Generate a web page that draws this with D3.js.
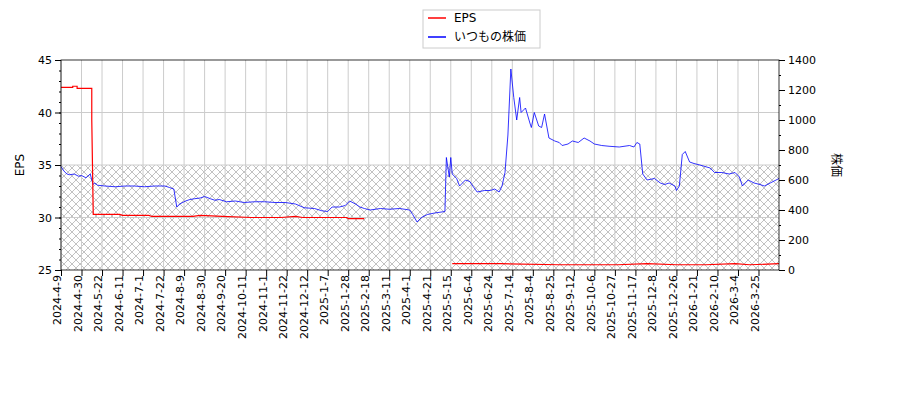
<!DOCTYPE html>
<html><head><meta charset="utf-8">
<script src="https://cdn.jsdelivr.net/npm/d3@7"></script>
<style>body{margin:0;background:#fff;font-family:"DejaVu Sans",sans-serif;}</style>
</head><body><svg id="c" width="900" height="400"></svg>
<script>
// x = trading-day index, tick every 14 days
var tickLabels = ["2024-4-9","2024-4-30","2024-5-22","2024-6-11","2024-7-1","2024-7-22","2024-8-9","2024-8-30","2024-9-20","2024-10-11","2024-11-1","2024-11-22","2024-12-12","2025-1-7","2025-1-28","2025-2-18","2025-3-11","2025-4-1","2025-4-21","2025-5-15","2025-6-4","2025-6-24","2025-7-14","2025-8-4","2025-8-25","2025-9-12","2025-10-6","2025-10-27","2025-11-17","2025-12-8","2025-12-26","2026-1-21","2026-2-10","2026-3-4","2026-3-25"];
var priceDays = [0,2,4,6,9,12,14,17,20,21,22,23,25,30,37,44,50,57,64,71,74,77,79,81,85,88,91,95,98,102,105,108,113,119,125,132,139,146,153,160,166,173,178,182,185,190,194,197,201,204,207,211,218,224,231,238,240,243,246,250,255,262,263,265,266,267,270,272,276,279,281,284,289,293,296,299,301,303,305,307,309,311,313,314,317,320,321,323,326,328,330,333,337,340,342,346,349,353,357,361,364,369,374,381,388,391,393,395,397,400,405,409,412,415,419,420,422,424,426,429,432,436,443,446,451,456,460,463,465,469,473,477,480,484,490];
var priceVals = [690,660,640,635,640,625,630,615,640,600,570,580,565,560,555,560,560,555,560,560,550,540,420,440,460,470,475,480,490,475,465,470,455,460,450,455,455,450,450,440,415,410,395,390,420,420,430,460,440,420,410,400,410,405,410,400,370,320,350,370,380,390,750,620,750,640,610,560,600,590,560,520,530,530,540,520,560,650,900,1340,1150,1000,1150,1050,1080,980,950,1050,960,950,1040,880,860,850,830,840,860,850,880,860,840,830,825,820,830,820,850,840,640,600,610,580,570,580,560,530,560,770,790,720,710,700,680,650,650,640,650,620,560,600,580,570,560,580,610];
var epsDays = [0,8,8,11,11,21,21,22,40,42,60,62,90,95,110,130,150,160,165,180,185,195,196,207,207,267,267,300,340,380,400,420,440,460,470,490];
var epsVals = [42.4,42.4,42.5,42.5,42.3,42.3,39.3,30.3,30.3,30.2,30.2,30.1,30.1,30.2,30.1,30.0,30.0,30.1,30.0,30.0,30.0,30.0,29.9,29.9,null,null,25.6,25.6,25.5,25.5,25.6,25.5,25.5,25.6,25.5,25.6];

var svg = d3.select("#c");
var L = 61, R = 779, T = 60, B = 270;
var x = d3.scaleLinear().domain([0,490]).range([L,R]);
var yL = d3.scaleLinear().domain([25,45]).range([B,T]);
var yR = d3.scaleLinear().domain([0,1400]).range([B,T]);

// hatch
var pat = svg.append("defs").append("pattern").attr("id","hatch")
  .attr("patternUnits","userSpaceOnUse").attr("width",8).attr("height",8);
pat.append("path").attr("d","M0,0L8,8M8,0L0,8").attr("stroke","#999").attr("stroke-width",0.6);
svg.append("rect").attr("x",L).attr("y",yL(35)).attr("width",R-L).attr("height",B-yL(35))
  .attr("fill","url(#hatch)");

// grid
var g = svg.append("g").attr("stroke","#cccccc").attr("stroke-width",1);
d3.range(0,tickLabels.length).forEach(function(i){
  g.append("line").attr("x1",x(i*14)).attr("x2",x(i*14)).attr("y1",T).attr("y2",B);
});
[30,35,40].forEach(function(v){
  g.append("line").attr("x1",L).attr("x2",R).attr("y1",yL(v)).attr("y2",yL(v));
});

// lines
svg.append("path").datum(priceDays.map(function(d,i){return [d,priceVals[i]];}))
  .attr("fill","none").attr("stroke","#0000ff").attr("stroke-width",0.8)
  .attr("d",d3.line().x(function(d){return x(d[0]);}).y(function(d){return yR(d[1]);}));
svg.append("path").datum(epsDays.map(function(d,i){return [d,epsVals[i]];}))
  .attr("fill","none").attr("stroke","#ff0000").attr("stroke-width",1.2)
  .attr("d",d3.line().defined(function(d){return d[1]!==null;}).x(function(d){return x(d[0]);}).y(function(d){return yL(d[1]);}));

// frame
svg.append("rect").attr("x",L).attr("y",T).attr("width",R-L).attr("height",B-T)
  .attr("fill","none").attr("stroke","#000").attr("stroke-width",0.8);

// axes
var ax = svg.append("g").attr("transform","translate(0,"+B+")")
  .call(d3.axisBottom(x).tickValues(d3.range(0,tickLabels.length).map(function(i){return i*14;}))
  .tickFormat(function(d){return tickLabels[d/14];}).tickSizeOuter(0));
ax.selectAll("text").attr("transform","rotate(-90)").attr("text-anchor","end")
  .attr("x",-5).attr("y",-4).attr("dy","0.35em");
svg.append("g").attr("transform","translate("+L+",0)")
  .call(d3.axisLeft(yL).ticks(20).tickFormat("").tickSize(2).tickSizeOuter(0));
svg.append("g").attr("transform","translate("+L+",0)")
  .call(d3.axisLeft(yL).tickValues([25,30,35,40,45]).tickSizeOuter(0));
svg.append("g").attr("transform","translate("+R+",0)")
  .call(d3.axisRight(yR).ticks(14).tickFormat("").tickSize(2).tickSizeOuter(0));
svg.append("g").attr("transform","translate("+R+",0)")
  .call(d3.axisRight(yR).tickValues(d3.range(0,1401,200)).tickFormat(d3.format("d")).tickSizeOuter(0));
svg.selectAll(".tick text").attr("font-size",11).attr("font-family","DejaVu Sans").attr("fill","#000");
svg.selectAll(".domain").remove();

svg.append("text").attr("transform","translate(24,165) rotate(-90)").attr("text-anchor","middle")
  .attr("font-size",12).text("EPS");
svg.append("text").attr("transform","translate(832,165) rotate(90)").attr("text-anchor","middle")
  .attr("font-size",12).attr("font-family","Noto Sans CJK JP").text("株価");

// legend
var lg = svg.append("g");
lg.append("rect").attr("x",423).attr("y",10).attr("width",117).attr("height",38)
  .attr("fill","#fff").attr("stroke","#ccc");
[["EPS","#ff0000"],["いつもの株価","#0000ff"]].forEach(function(s,i){
  var yy = 18 + i*19;
  lg.append("line").attr("x1",428).attr("x2",446).attr("y1",yy).attr("y2",yy).attr("stroke",s[1]).attr("stroke-width",1.5);
  lg.append("text").attr("x",454).attr("y",yy+4).attr("font-size",12)
    .attr("font-family","DejaVu Sans, Noto Sans CJK JP").text(s[0]);
});
</script></body></html>
